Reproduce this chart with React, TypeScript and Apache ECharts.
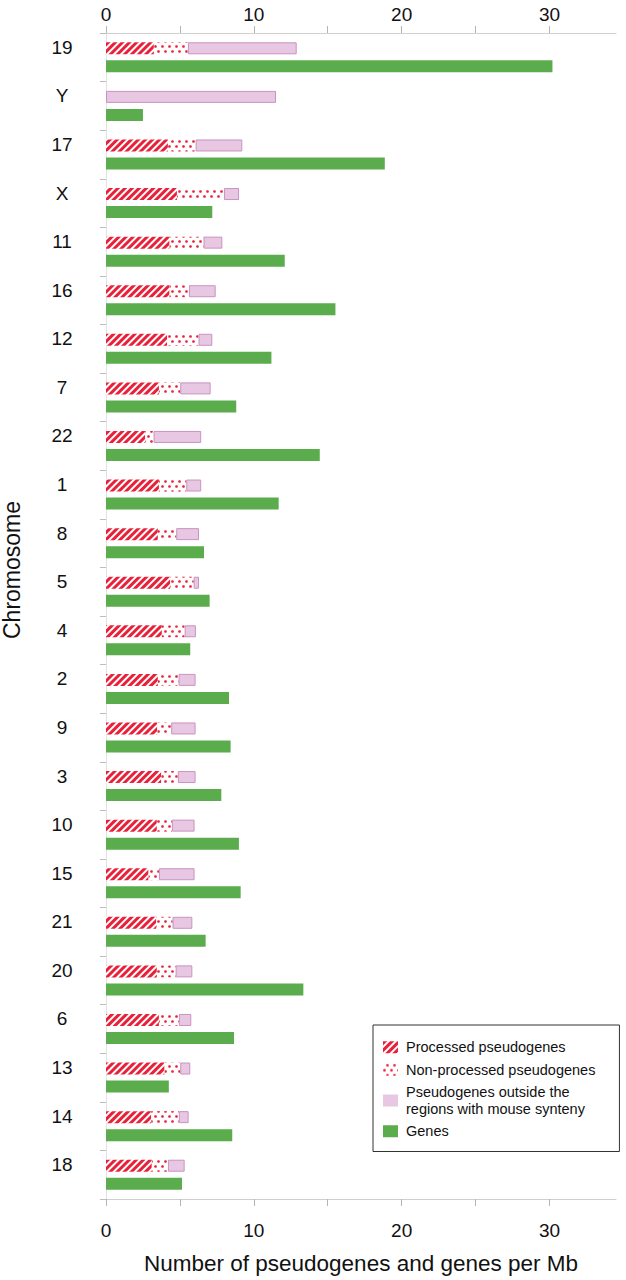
import React, { useEffect, useRef } from "react";
import * as echarts from "echarts";

const categories = ["19", "Y", "17", "X", "11", "16", "12", "7", "22", "1", "8", "5", "4", "2", "9", "3", "10", "15", "21", "20", "6", "13", "14", "18"];
const processed = [3.24, 0, 4.19, 4.8, 4.3, 4.3, 4.14, 3.58, 2.65, 3.58, 3.51, 4.35, 3.78, 3.51, 3.47, 3.74, 3.44, 2.88, 3.4, 3.44, 3.58, 3.96, 3.06, 3.1];
const nonProcessed = [2.3, 0, 1.87, 3.18, 2.3, 1.31, 2.12, 1.44, 0.57, 1.85, 1.24, 1.58, 1.54, 1.4, 0.94, 1.12, 1.02, 0.7, 1.1, 1.27, 1.35, 1.06, 1.87, 1.09];
const outside = [7.36, 11.5, 3.16, 1.02, 1.27, 1.81, 0.93, 2.06, 3.22, 1.01, 1.54, 0.36, 0.76, 1.15, 1.65, 1.2, 1.53, 2.41, 1.34, 1.13, 0.84, 0.68, 0.66, 1.13];
const genes = [30.2, 2.5, 18.86, 7.19, 12.09, 15.52, 11.19, 8.81, 14.46, 11.68, 6.63, 7.01, 5.7, 8.32, 8.43, 7.8, 8.99, 9.11, 6.74, 13.35, 8.66, 4.25, 8.54, 5.14];
const tickValues = [0, 5, 10, 15, 20, 25, 30];
const labelValues = [0, 10, 20, 30];
const seriesNames = [
  "Processed pseudogenes",
  "Non-processed pseudogenes",
  "Pseudogenes outside the\nregions with mouse synteny",
  "Genes",
];

const FONT = "'Liberation Sans', Arial, Helvetica, sans-serif";
const RED = "#e8213a";

function valueAxis(position: "top" | "bottom") {
  const isBottom = position === "bottom";
  return {
    type: "value",
    position,
    min: 0,
    max: 34.5,
    interval: 5,
    name: isBottom ? "Number of pseudogenes and genes per Mb" : "",
    nameLocation: "middle",
    nameGap: 53,
    nameTextStyle: { fontSize: 22.5, color: "#111", fontFamily: FONT },
    axisLine: { show: true, lineStyle: { color: "#cfcfcf", width: 1 } },
    axisTick: { show: true, customValues: tickValues, length: 7, lineStyle: { color: "#b5b5b5" } },
    axisLabel: {
      customValues: labelValues,
      fontSize: 19,
      color: "#111",
      fontFamily: FONT,
      margin: isBottom ? 22 : 9,
    },
    splitLine: { show: false },
  };
}

export default function App() {
  const ref = useRef<HTMLDivElement>(null);
  useEffect(() => {
    const chart = echarts.init(ref.current!, null, { renderer: "svg" });
    const option = {
      animation: false,
      backgroundColor: "#ffffff",
      grid: { left: 106, right: 10, top: 33, bottom: 81, containLabel: false },
      xAxis: [valueAxis("bottom"), valueAxis("top")],
      yAxis: {
        type: "category",
        inverse: true,
        data: categories,
        axisLine: { show: true, lineStyle: { color: "#e2e2e2" } },
        axisTick: { show: true, length: 6, lineStyle: { color: "#bdbdbd" } },
        axisLabel: {
          fontSize: 19,
          color: "#111",
          fontFamily: FONT,
          align: "center",
          verticalAlign: "bottom",
          lineHeight: 20,
          margin: 44,
        },
      },
      legend: {
        orient: "vertical",
        left: 373,
        top: 1025,
        data: [
          { name: seriesNames[0] },
          { name: seriesNames[1] },
          { name: seriesNames[2], itemStyle: { borderWidth: 0 } },
          { name: seriesNames[3] },
        ],
        icon: "rect",
        itemWidth: 15,
        itemHeight: 12,
        itemGap: 6,
        padding: [14, 24, 12, 10],
        borderColor: "#333",
        borderWidth: 1,
        backgroundColor: "#fff",
        selectedMode: false,
        textStyle: { fontSize: 14.5, lineHeight: 16.5, color: "#111", fontFamily: FONT, padding: [0, 0, 0, 3] },
      },
      graphic: [
        {
          type: "text",
          x: 12,
          y: 570,
          rotation: Math.PI / 2,
          style: {
            text: "Chromosome",
            fontSize: 23,
            fontFamily: FONT,
            fill: "#111",
            align: "center",
            verticalAlign: "middle",
          },
        },
      ],
      series: [
        {
          name: seriesNames[0],
          type: "bar",
          stack: "pseudo",
          barWidth: 12,
          barGap: "50%",
          data: processed,
          itemStyle: {
            color: "#ffffff",
            decal: {
              symbol: "rect",
              symbolSize: 1,
              color: RED,
              dashArrayX: [1, 0],
              dashArrayY: [3, 1.6],
              rotation: -Math.PI / 4,
            },
          },
        },
        {
          name: seriesNames[1],
          type: "bar",
          stack: "pseudo",
          barWidth: 12,
          barGap: "50%",
          data: nonProcessed,
          itemStyle: {
            color: "#ffffff",
            decal: {
              symbol: "circle",
              symbolSize: 0.9,
              color: RED,
              dashArrayX: [[2.2, 3.3], [0, 2.75, 2.2, 0.55]],
              dashArrayY: [2.2, 1.8],
              rotation: 0,
            },
          },
        },
        {
          name: seriesNames[2],
          type: "bar",
          stack: "pseudo",
          barWidth: 12,
          barGap: "50%",
          data: outside,
          itemStyle: { color: "#e8c7e2", borderColor: "#c993c0", borderWidth: 1 },
        },
        {
          name: seriesNames[3],
          type: "bar",
          barWidth: 12,
          barGap: "50%",
          data: genes,
          itemStyle: { color: "#5aac4c" },
        },
      ],
    };
    chart.setOption(option as any);
    return () => chart.dispose();
  }, []);
  return (
    <div
      ref={ref}
      style={{ position: "absolute", left: 0, top: 0, width: 626, height: 1280, background: "#fff" }}
    />
  );
}
